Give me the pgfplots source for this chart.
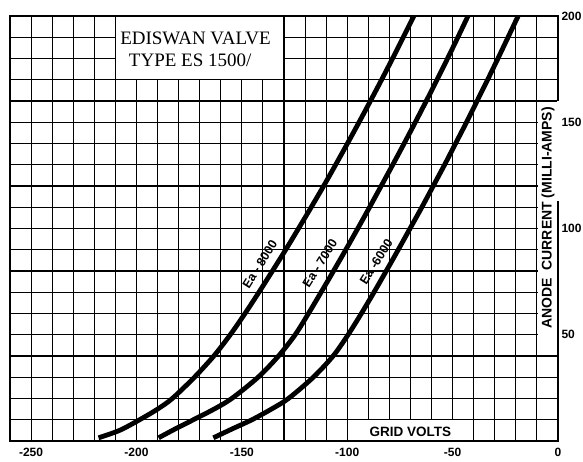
\documentclass[border=0pt]{standalone}
\usepackage{fontspec}
\setmainfont{Liberation Sans}
\newfontfamily\titlefont{Liberation Serif}
\usepackage{pgfplots}
\pgfplotsset{compat=1.18}
\begin{document}
\begin{tikzpicture}
\path[use as bounding box] (-10pt,-21pt) rectangle (573pt,441pt);
\begin{axis}[
  scale only axis, width=548pt, height=425pt,
  xmin=-260, xmax=0, ymin=0, ymax=200,
  xtick={-250,-200,-150,-100,-50,0},
  xticklabels={-250,-200,-150,-100,-50,0},
  ytick={50,100,150,200},
  yticklabels={50,100,150,200},
  yticklabel pos=right,
  minor xtick={-250,-240,...,-10},
  minor ytick={10,20,...,190},
  grid=minor,
  minor grid style={draw=black, line width=1.05pt},
  major tick length=0pt, minor tick length=0pt,
  axis line style={line width=2pt},
  tick label style={font=\bfseries\fontsize{12}{14}\selectfont},
  xticklabel style={yshift=-3.5pt},
  clip=false,
]
% white areas
\fill[white] ([shift={(0.6pt,0.6pt)}]axis cs:-210,170) rectangle ([shift={(-0.6pt,-1.1pt)}]axis cs:-130,200);
\fill[white] ([shift={(0.6pt,1.1pt)}]axis cs:-100,0) rectangle ([shift={(-0.6pt,-0.6pt)}]axis cs:-40,10);
\fill[white] ([shift={(0.6pt,0.6pt)}]axis cs:-10,40) rectangle ([shift={(-1.1pt,-0.6pt)}]axis cs:0,160);
\fill[white] ([shift={(-1.3pt,0pt)}]axis cs:0,113) rectangle ([shift={(1.3pt,0pt)}]axis cs:0,160);

% Ea = 8000
\addplot[black, line width=4.8pt, smooth, tension=0.5] coordinates {
(-218,1.5) (-208,5) (-198.5,10) (-190,15) (-183,20) (-172.5,30) (-163.3,40)
(-155.5,50) (-148.5,60) (-141.9,70) (-135.5,80) (-129.2,90) (-123.1,100)
(-117.1,110) (-111.2,120) (-105.5,130) (-99.9,140) (-94.4,150) (-89,160)
(-83.7,170) (-78.5,180) (-73.4,190) (-68.4,200)
};
% Ea = 7000
\addplot[black, line width=4.8pt, smooth, tension=0.5] coordinates {
(-189.5,1.5) (-181,6) (-173,10) (-163.2,15) (-154.8,20) (-142.3,30)
(-132.6,40) (-124.7,50) (-118.4,60) (-112.4,70) (-106.5,80) (-100.7,90)
(-95,100) (-89.4,110) (-83.9,120) (-78.4,130) (-73,140) (-67.7,150)
(-62.5,160) (-57.4,170) (-52.4,180) (-47.5,190) (-42.7,200)
};
% Ea = 6000
\addplot[black, line width=4.8pt, smooth, tension=0.5] coordinates {
(-163.5,1.5) (-155,5.5) (-145.2,10) (-136,15) (-127.9,20) (-116.1,30)
(-106.7,40) (-99.6,50) (-93.3,60) (-87.3,70) (-81.5,80) (-75.8,90)
(-70.2,100) (-64.6,110) (-59.2,120) (-53.8,130) (-48.6,140) (-43.4,150)
(-38.4,160) (-33.4,170) (-28.5,180) (-23.7,190) (-18.9,200)
};

\node[font=\titlefont\fontsize{19}{22}\selectfont] at (axis cs:-172,189.3) {EDISWAN VALVE};
\node[font=\titlefont\fontsize{19}{22}\selectfont] at (axis cs:-174.5,179) {TYPE ES 1500/};
\node[font=\bfseries\fontsize{13.5}{15}\selectfont] at (axis cs:-70,4.3) {GRID VOLTS};
\node[rotate=90, font=\bfseries\fontsize{14}{16}\selectfont] at (axis cs:-4.8,105) {ANODE\ \ CURRENT (MILLI-AMPS)};
\node[rotate=58, inner sep=0pt, font=\bfseries\fontsize{12.5}{14}\selectfont] at (axis cs:-141.5,83) {Ea - 8000};
\node[rotate=58, inner sep=0pt, font=\bfseries\fontsize{12.5}{14}\selectfont] at (axis cs:-113,83.5) {Ea - 7000};
\node[rotate=58, inner sep=0pt, font=\bfseries\fontsize{12.5}{14}\selectfont] at (axis cs:-86.3,84.3) {Ea -6000};
\end{axis}
\end{tikzpicture}
\end{document}
